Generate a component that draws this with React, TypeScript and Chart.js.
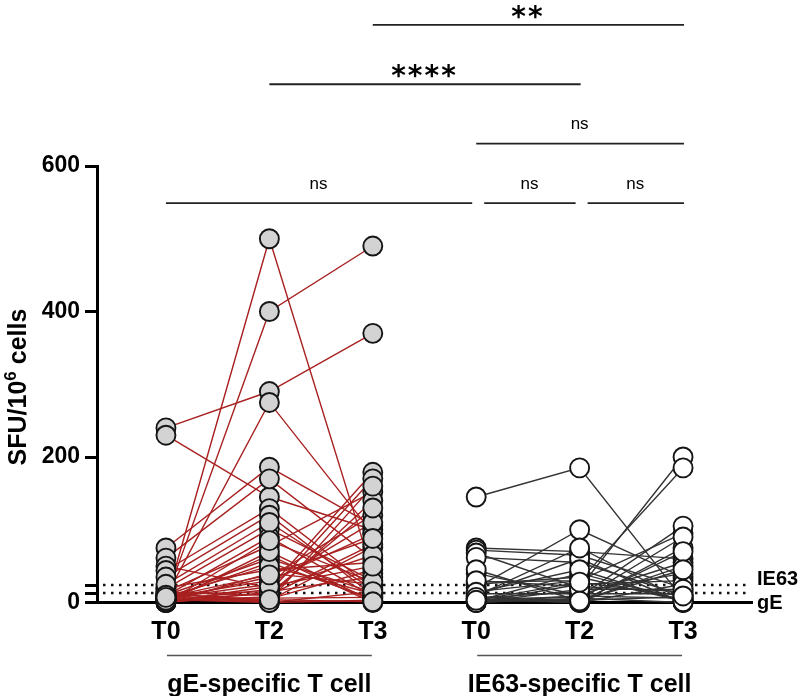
import { useEffect, useRef } from "react";
import Chart from "chart.js/auto";
import type { Plugin } from "chart.js/auto";

// categories
const timepoints = ["T0", "T2", "T3"];
const groups = ["gE-specific T cell", "IE63-specific T cell"];

// y axis
const yTicks = [0, 200, 400, 600];
const lodNames = ["IE63", "gE"];
const lodValues = [24, 13];

// gE-specific T cell, one entry per subject (SFU/10^6 cells)
const gE_T0 = [240, 230, 2, 5, 8, 75, 61, 50, 44, 35, 19, 15, 10, 5, 3, 0, 12, 7, 20, 1, 4, 9, 6, 0, 2, 14, 3, 8, 11, 0, 5, 25, 2, 6, 0, 4, 10, 1, 3, 7];
const gE_T2 = [290, 145, 500, 400, 275, 186, 170, 20, 129, 120, 101, 78, 60, 55, 35, 14, 3, 30, 45, 8, 0, 90, 25, 40, 65, 10, 5, 50, 15, 70, 2, 110, 18, 6, 85, 12, 0, 22, 4, 38];
const gE_T3 = [370, 100, 40, 490, 95, 106, 60, 179, 20, 10, 30, 152, 14, 5, 120, 170, 76, 94, 55, 140, 3, 8, 110, 25, 0, 80, 45, 12, 35, 2, 160, 18, 65, 7, 28, 130, 15, 50, 1, 88];

// IE63-specific T cell
const ie_T0 = [145, 75, 72, 68, 62, 20, 40, 28, 25, 15, 10, 5, 0, 3, 8, 12, 2, 45, 6, 0, 4, 30, 1, 9, 5, 2, 0, 14, 7, 3];
const ie_T2 = [185, 70, 65, 20, 55, 100, 10, 30, 35, 30, 60, 0, 25, 8, 3, 12, 40, 2, 15, 6, 0, 22, 4, 75, 1, 9, 18, 45, 2, 28];
const ie_T3 = [5, 60, 20, 200, 10, 35, 55, 95, 2, 185, 0, 75, 30, 105, 8, 12, 3, 50, 40, 0, 25, 15, 90, 4, 70, 6, 18, 1, 45, 9];

// significance brackets (column indexes, row from the bottom)
const sigLabels = ["ns", "ns", "ns", "ns", "****", "**"];
const sigFrom = [0, 3, 4, 3, 1, 2];
const sigTo = [3, 4, 5, 5, 4, 5];
const sigRow = [0, 0, 0, 1, 2, 3];

const FONT = '"Liberation Sans", Arial, Helvetica, sans-serif';
const RED = "#a82020";
const DARK = "#333333";

const seriesFor = [
  [gE_T0, gE_T2, gE_T3],
  [ie_T0, ie_T2, ie_T3],
];

const annotations: Plugin = {
  id: "annotations",
  beforeDatasetsDraw(chart) {
    const { ctx, chartArea, scales } = chart;
    const y = scales.y;
    ctx.save();
    ctx.strokeStyle = "#111";
    ctx.lineWidth = 2.5;
    ctx.setLineDash([2.5, 5.5]);
    lodValues.forEach((v) => {
      const py = y.getPixelForValue(v);
      ctx.beginPath();
      ctx.moveTo(chartArea.left + 6, py);
      ctx.lineTo(chartArea.right - 5, py);
      ctx.stroke();
    });
    ctx.restore();
  },
  afterDraw(chart) {
    const { ctx, chartArea, scales } = chart;
    const x = scales.x;
    const y = scales.y;
    ctx.save();

    // LOD labels
    ctx.fillStyle = "#000";
    ctx.font = `bold 20px ${FONT}`;
    ctx.textAlign = "left";
    ctx.textBaseline = "middle";
    ctx.fillText(lodNames[0], chartArea.right + 5, y.getPixelForValue(lodValues[0]) - 6);
    ctx.fillText(lodNames[1], chartArea.right + 5, y.getPixelForValue(0) + 1);

    // y title
    ctx.save();
    ctx.translate(26, 387);
    ctx.rotate(-Math.PI / 2);
    ctx.textBaseline = "alphabetic";
    ctx.textAlign = "left";
    const big = `bold 25px ${FONT}`;
    const small = `bold 17px ${FONT}`;
    ctx.font = big;
    const w1 = ctx.measureText("SFU/10").width;
    const w3 = ctx.measureText(" cells").width;
    ctx.font = small;
    const w2 = ctx.measureText("6").width;
    let sx = -(w1 + w2 + w3) / 2;
    ctx.font = big;
    ctx.fillText("SFU/10", sx, 0);
    sx += w1;
    ctx.font = small;
    ctx.fillText("6", sx, -10);
    sx += w2;
    ctx.font = big;
    ctx.fillText(" cells", sx, 0);
    ctx.restore();

    // group brackets and names
    groups.forEach((g, gi) => {
      const x0 = x.getPixelForValue(gi * 3);
      const x1 = x.getPixelForValue(gi * 3 + 2);
      ctx.strokeStyle = "#555";
      ctx.lineWidth = 1.5;
      ctx.beginPath();
      ctx.moveTo(x0 + 1, 655.5);
      ctx.lineTo(x1 - 1, 655.5);
      ctx.stroke();
      ctx.fillStyle = "#000";
      ctx.font = `bold 25px ${FONT}`;
      ctx.textAlign = "center";
      ctx.textBaseline = "alphabetic";
      ctx.fillText(g, (x0 + x1) / 2, 692);
    });

    // significance brackets
    sigLabels.forEach((label, i) => {
      const level = 549 + sigRow[i] * 81.7;
      const py = y.getPixelForValue(level);
      let x0 = x.getPixelForValue(sigFrom[i]);
      let x1 = x.getPixelForValue(sigTo[i]);
      if (sigRow[i] === 0) {
        if (sigFrom[i] > 0) x0 += 8;
        if (sigTo[i] < 5) x1 -= 5;
      }
      ctx.strokeStyle = "#222";
      ctx.lineWidth = 1.8;
      ctx.beginPath();
      ctx.moveTo(x0, py);
      ctx.lineTo(x1 + 1, py);
      ctx.stroke();
      ctx.fillStyle = "#000";
      ctx.textAlign = "center";
      if (label === "ns") {
        ctx.font = `17px ${FONT}`;
        ctx.textBaseline = "middle";
        ctx.fillText(label, (x0 + x1) / 2, py - 19);
      } else {
        ctx.font = `bold 28px "DejaVu Sans", sans-serif`;
        ctx.textBaseline = "alphabetic";
        (ctx as any).letterSpacing = "2px";
        ctx.fillText(label, (x0 + x1) / 2, py + 1);
        (ctx as any).letterSpacing = "0px";
      }
    });
    ctx.restore();
  },
};

export default function App() {
  const canvasRef = useRef<HTMLCanvasElement | null>(null);

  useEffect(() => {
    const ctx = canvasRef.current?.getContext("2d");
    if (!ctx) return;

    const lineSets: any[] = [];
    const pointSets: any[] = [];
    seriesFor.forEach((cols, gi) => {
      const n = cols[0].length;
      for (let s = 0; s < n; s++) {
        lineSets.push({
          data: cols.map((c, ti) => ({ x: gi * 3 + ti, y: c[s] })),
          showLine: true,
          borderColor: gi === 0 ? RED : DARK,
          borderWidth: 1.4,
          pointRadius: 0,
          clip: false,
          order: 1,
        });
      }
      cols.forEach((c, ti) => {
        pointSets.push({
          data: c.map((v) => ({ x: gi * 3 + ti, y: v })),
          showLine: false,
          pointRadius: 9.5,
          pointBackgroundColor: gi === 0 ? "#d3d3d3" : "#ffffff",
          pointBorderColor: "#151515",
          pointBorderWidth: 1.9,
          clip: false,
          order: 0,
        });
      });
    });

    const chart = new Chart(ctx, {
      type: "scatter",
      data: { datasets: [...pointSets, ...lineSets] },
      options: {
        animation: false,
        responsive: false,
        events: [],
        layout: { padding: { top: 166, right: 48, bottom: 0, left: 0 } },
        plugins: { legend: { display: false }, tooltip: { enabled: false } },
        scales: {
          x: {
            type: "linear",
            min: -2 / 3,
            max: 5 + 2 / 3,
            afterBuildTicks: (s) => {
              s.ticks = [0, 1, 2, 3, 4, 5].map((v) => ({ value: v }));
            },
            afterFit: (s) => {
              s.height = 93.5;
            },
            ticks: {
              callback: (v) => timepoints[Math.round(Number(v)) % 3],
              autoSkip: false,
              maxRotation: 0,
              color: "#000",
              padding: 8,
              font: { family: FONT, size: 25, weight: "bold" },
            },
            grid: { drawOnChartArea: false, tickLength: 7, tickWidth: 2, color: "#000" },
            border: { color: "#000", width: 3 },
          },
          y: {
            min: 0,
            max: 600,
            afterBuildTicks: (s) => {
              s.ticks = [...yTicks, ...lodValues].sort((a, b) => a - b).map((v) => ({ value: v }));
            },
            afterFit: (s) => {
              s.width = 97;
            },
            ticks: {
              callback: (v) => (yTicks.includes(Number(v)) ? String(v) : ""),
              autoSkip: false,
              color: "#000",
              padding: 5,
              font: { family: FONT, size: 23, weight: "bold" },
            },
            grid: { drawOnChartArea: false, tickLength: 12, tickWidth: 3, color: "#000" },
            border: { color: "#000", width: 3 },
          },
        },
      },
      plugins: [annotations],
    });

    return () => chart.destroy();
  }, []);

  return (
    <div style={{ position: "absolute", left: 0, top: 0, width: 800, height: 696, background: "#fff" }}>
      <canvas ref={canvasRef} width={800} height={696} />
    </div>
  );
}
